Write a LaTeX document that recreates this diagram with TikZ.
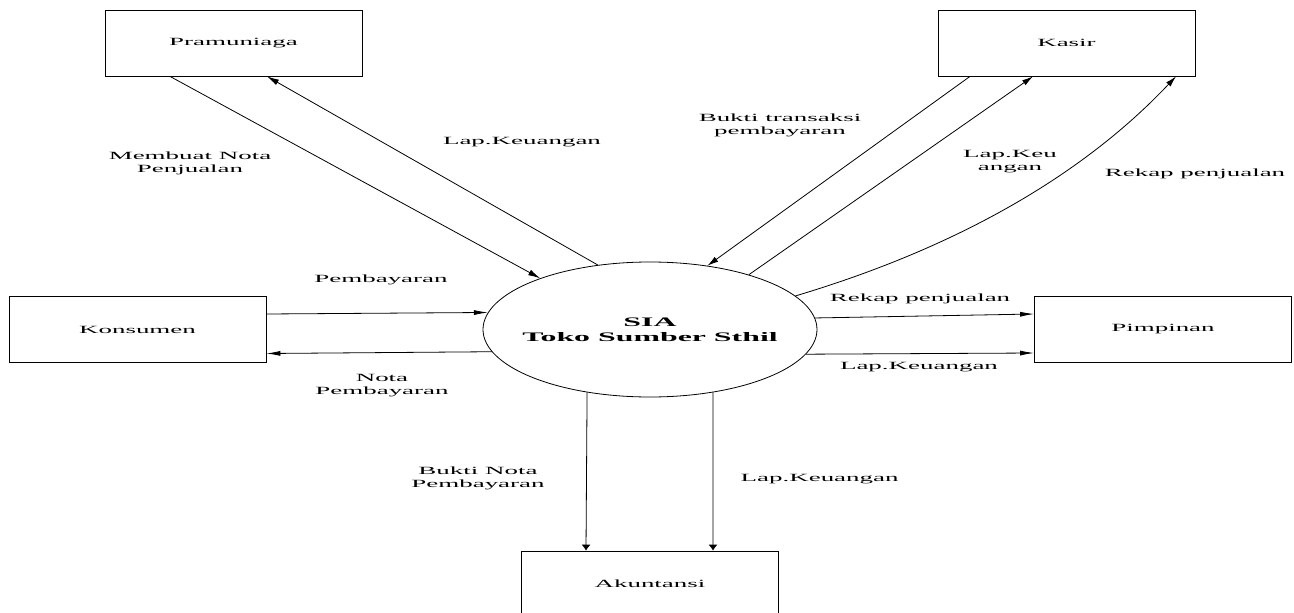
\documentclass[tikz,border=0pt]{standalone}
\usepackage{fontspec}
\setmainfont{Liberation Serif}[FakeStretch=2.45]
\usetikzlibrary{shapes.geometric, arrows.meta}

\begin{document}
\begin{tikzpicture}[x=1pt, y=-1pt, line width=0.8pt,
	ent/.style={draw, rectangle, minimum width=257pt, minimum height=66pt, inner sep=0pt, font=\fontsize{11}{13}\selectfont},
	lbl/.style={align=center, inner sep=0pt, font=\fontsize{11}{13}\selectfont},
	harr/.style={-{Latex[length=14pt,width=5pt]}},
	darr/.style={-{Latex[length=12pt,width=6pt]}},
	karr/.style={-{Latex[length=11pt,width=6pt]}},
	varr/.style={-{Latex[length=6pt,width=9pt]}}]
		\fill[white] (0,0) rectangle (1294,613);
		\useasboundingbox (0,0) rectangle (1294,613);
		% entitas luar
		\foreach \x/\y/\name/\txt in {
			233.5/43/pram/Pramuniaga,
			1066.5/43/kasir/Kasir,
			137.5/329.5/kons/Konsumen,
			1163/329.5/pimp/Pimpinan,
			650/584/akun/Akuntansi
		 }{
		 	\node[ent] (\name) at (\x,\y) {\txt};
		 }
		 % proses
		 \node[ellipse, draw, minimum width=334pt, minimum height=135pt, inner ysep=0pt, inner xsep=-20pt, align=center, font=\fontsize{13}{15}\selectfont\bfseries] (sia) at (650,329.5) {SIA\\Toko Sumber Sthil};
		 % aliran data
		 \draw[darr] ([xshift=-63.5pt]pram.south) -- (sia.155);
		 \draw[darr] (sia.129) -- ([xshift=33.5pt]pram.south);
		 \draw[karr] ([xshift=-96.5pt]kasir.south) -- (sia.48.5);
		 \draw[karr] (sia.29) -- ([xshift=-33.5pt]kasir.south);
		 \draw[karr] (sia.13) .. controls (956,248) and (1082,176) .. ([xshift=109.5pt]kasir.south);
		 \draw[harr] ([yshift=15.5pt]kons.east) -- (sia.174);
		 \draw[harr] (sia.188) -- ([yshift=-24pt]kons.east);
		 \draw[harr] (sia.4.4) -- ([yshift=15.5pt]pimp.west);
		 \draw[harr] (sia.351.5) -- ([yshift=-23.5pt]pimp.west);
		 \draw[varr] (sia.225) -- ([xshift=-64pt]akun.north);
		 \draw[varr] (sia.315.5) -- ([xshift=63pt]akun.north);
		 % label
		 \foreach \x/\y/\name/\txt in {
			190/163/lmnota/{Membuat Nota\\Penjualan},
			522/142/llapa/{Lap.Keuangan},
			780/125/lbukti/{Bukti transaksi\\pembayaran},
			1010/162/llapb/{Lap.Keu\\angan},
			1195/174/lrekapa/{Rekap penjualan},
			381/280/lbayar/{Pembayaran},
			920/299/lrekapb/{Rekap penjualan},
			382/385.5/lnota/{Nota\\Pembayaran},
			919/367/llapc/{Lap.Keuangan},
			478/478/lbnota/{Bukti Nota\\Pembayaran},
			823/479/llapd/{Lap.Keuangan}
		 }{
		 	\node[lbl] (\name) at (\x,\y) {\txt};
		 }
	\end{tikzpicture}
\end{document}
